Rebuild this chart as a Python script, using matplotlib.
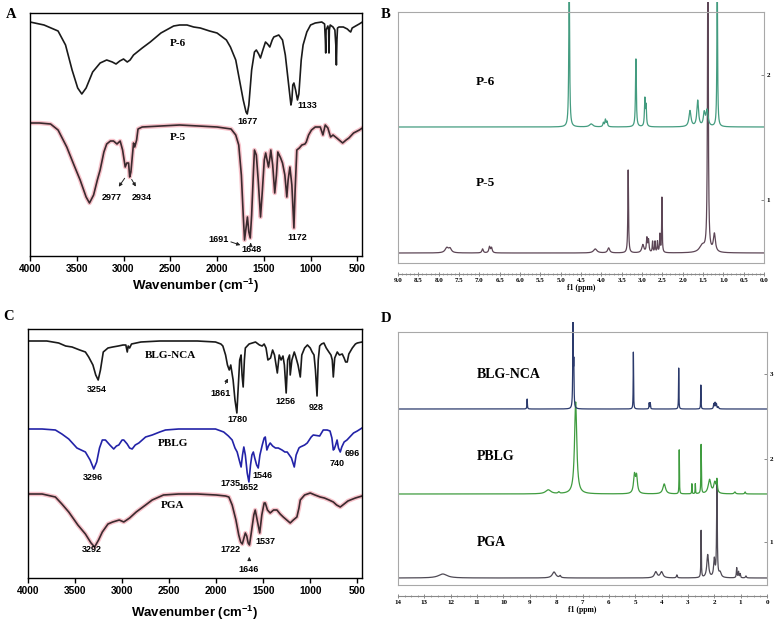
import numpy as np
import matplotlib
matplotlib.use("Agg")
import matplotlib.pyplot as plt
from matplotlib.ticker import MultipleLocator, FormatStrFormatter

plt.rcParams['mathtext.fontset'] = 'custom'
plt.rcParams['mathtext.bf'] = 'Liberation Sans:bold'
plt.rcParams['mathtext.rm'] = 'Liberation Sans'

SANS = 'Liberation Sans'
SERIF = 'Liberation Serif'

# ---------------- IR data (wavenumber, band depth) ----------------
# panel A
p6_wn = [4000, 3850, 3700, 3620, 3550, 3490, 3446, 3400, 3330, 3250, 3180, 3120, 3080, 3040, 3000,
         2960, 2930, 2893, 2800, 2714, 2600, 2464, 2400, 2321, 2250, 2179, 2080, 2000, 1900, 1857,
         1800, 1760, 1720, 1690, 1677, 1660, 1630, 1600, 1580, 1555, 1536, 1510, 1482, 1460, 1436,
         1410, 1393, 1340, 1300, 1270, 1240, 1210, 1200, 1190, 1178, 1160, 1140, 1125, 1100, 1080,
         1040, 1000, 950, 880, 850, 842, 838, 834, 815, 807, 803, 799, 790, 760, 740, 730, 724, 718,
         712, 696, 650, 607, 585, 571, 555, 518, 480, 446]
p6_t = [22, 25, 31, 45, 70, 88, 94, 88, 72, 63, 60, 62, 64, 61, 59,
        62, 60, 55, 48, 42, 33, 26, 25, 25, 27, 28, 31, 33, 40, 47,
        60, 80, 100, 112, 114, 105, 70, 52, 50, 54, 58, 50, 42, 44, 47,
        40, 37, 35, 40, 55, 80, 105, 100, 85, 83, 90, 100, 94, 60, 45,
        32, 25, 23, 22, 24, 40, 53, 30, 26, 30, 53, 30, 25, 27, 30, 45, 65, 40,
        28, 27, 27, 29, 31, 32, 28, 26, 24, 22]

p5_wn = [4000, 3900, 3780, 3700, 3607, 3530, 3464, 3400, 3364, 3320, 3280, 3250, 3210, 3180, 3140,
         3107, 3070, 3036, 3010, 2982, 2965, 2946, 2934, 2921, 2893, 2880, 2860, 2845, 2800, 2600,
         2400, 2200, 2000, 1850, 1800, 1768, 1740, 1720, 1706, 1690, 1675, 1660, 1645, 1630, 1610,
         1600, 1580, 1560, 1535, 1515, 1495, 1480, 1465, 1450, 1435, 1425, 1405, 1383, 1365, 1350,
         1320, 1300, 1275, 1254, 1240, 1221, 1200, 1178, 1165, 1147, 1120, 1093, 1060, 1046, 1021,
         990, 950, 896, 868, 843, 815, 786, 760, 720, 657, 620, 590, 540, 478, 446]
p5_t = [123, 123, 124, 130, 147, 165, 180, 197, 203, 195, 180, 170, 152, 144, 141,
        141, 144, 141, 150, 167, 163, 163, 177, 172, 143, 147, 140, 129, 127, 126,
        125, 126, 127, 129, 135, 145, 175, 215, 240, 228, 217, 232, 238, 215, 170,
        150, 155, 180, 217, 190, 160, 153, 160, 167, 158, 150, 165, 193, 175, 152,
        158, 163, 175, 197, 180, 167, 185, 228, 190, 150, 148, 145, 144, 142, 135,
        130, 127, 127, 135, 125, 128, 137, 135, 138, 143, 140, 138, 133, 130, 128]

# panel C
nca_wn = [4000, 3800, 3674, 3600, 3532, 3450, 3390, 3355, 3310, 3280, 3254, 3230, 3200, 3150, 3100,
          3040, 2990, 2960, 2945, 2935, 2920, 2900, 2800, 2600, 2400, 2200, 2007, 1950, 1929, 1900,
          1880, 1861, 1845, 1820, 1800, 1780, 1770, 1750, 1735, 1725, 1713, 1700, 1690, 1650, 1582,
          1540, 1511, 1490, 1470, 1450, 1422, 1400, 1380, 1350, 1330, 1310, 1290, 1275, 1256, 1240,
          1220, 1213, 1195, 1170, 1156, 1130, 1106, 1090, 1060, 1030, 1000, 980, 960, 945, 928,
          915, 900, 880, 855, 830, 802, 780, 766, 755, 740, 713, 690, 660, 640, 624,
          607, 590, 553, 520, 500, 450]
nca_t = [341, 341, 343, 346, 347, 350, 352, 357, 365, 375, 380, 370, 352, 348, 347,
         346, 345, 345, 352, 346, 348, 344, 342, 341, 341, 341, 342, 344, 346, 355,
         365, 370, 365, 380, 400, 413, 395, 360, 355, 375, 387, 360, 348, 344, 342,
         345, 346, 344, 348, 360, 358, 350, 355, 373, 355, 360, 356, 365, 393, 360,
         355, 375, 360, 352, 356, 365, 377, 355, 348, 345, 348, 352, 355, 370, 396,
         360, 346, 344, 343, 348, 352, 355, 360, 377, 358, 352, 355, 354, 358, 362,
         362, 354, 348, 344, 343, 342]

pblg_wn = [4000, 3850, 3709, 3640, 3567, 3480, 3390, 3340, 3301, 3270, 3240, 3210, 3177, 3130, 3089,
           3060, 3035, 3000, 2982, 2946, 2920, 2893, 2860, 2822, 2750, 2680, 2600, 2539, 2400, 2200,
           2007, 1920, 1870, 1830, 1800, 1777, 1755, 1735, 1720, 1706, 1690, 1670, 1652, 1635, 1620,
           1605, 1590, 1570, 1553, 1535, 1510, 1490, 1478, 1461, 1445, 1426, 1400, 1370, 1340, 1300,
           1270, 1245, 1200, 1170, 1150, 1120, 1106, 1060, 1032, 990, 968, 900, 862, 820, 790,
           770, 755, 745, 730, 715, 700, 681, 665, 640, 610, 580, 540, 500, 450]
pblg_t = [429, 429, 430, 434, 439, 448, 452, 460, 469, 462, 448, 440, 440, 445, 449,
          446, 445, 440, 440, 444, 448, 449, 445, 443, 437, 435, 432, 430, 429, 429,
          429, 432, 436, 440, 448, 452, 460, 467, 455, 447, 455, 473, 482, 465, 455,
          452, 458, 465, 468, 455, 445, 438, 437, 450, 446, 443, 446, 448, 448, 450,
          452, 452, 458, 467, 455, 448, 447, 445, 443, 437, 435, 436, 430, 430, 431,
          438, 450, 449, 445, 440, 448, 452, 447, 442, 440, 437, 433, 431, 428]

pga_wn = [4000, 3850, 3709, 3640, 3567, 3470, 3390, 3330, 3292, 3250, 3210, 3150, 3100, 3030, 2982,
          2920, 2850, 2750, 2680, 2560, 2400, 2200, 2000, 1900, 1865, 1830, 1790, 1760, 1740, 1722,
          1705, 1690, 1675, 1660, 1646, 1630, 1615, 1600, 1585, 1560, 1537, 1515, 1490, 1478, 1455,
          1426, 1390, 1354, 1320, 1287, 1250, 1213, 1180, 1142, 1120, 1106, 1060, 1000, 950, 894,
          850, 800, 755, 720, 681, 640, 600, 574, 520, 450]
pga_t = [494, 494, 497, 504, 512, 525, 534, 543, 547, 540, 532, 524, 522, 520, 522,
         518, 512, 505, 500, 495, 494, 494, 495, 496, 497, 505, 520, 535, 542, 544,
         538, 533, 536, 543, 545, 535, 525, 515, 510, 522, 533, 515, 503, 503, 510,
         513, 510, 510, 514, 517, 520, 523, 520, 517, 508, 500, 495, 493, 495, 497,
         498, 500, 502, 505, 507, 504, 501, 500, 498, 496]

# ---------------- NMR peak lists (ppm, height, half width) ----------------
p6_ppm = [4.79, 4.25, 3.95, 3.90, 3.86, 3.15, 2.93, 2.90, 1.82, 1.63, 1.47, 1.40, 1.15]
p6_h = [150, 3, 4, 7, 5, 68, 27, 20, 16, 26, 13, 16, 150]
p6_w = [0.012, 0.05, 0.015, 0.015, 0.015, 0.012, 0.012, 0.012, 0.03, 0.025, 0.025, 0.03, 0.01]

p5_ppm = [7.80, 7.72, 6.92, 6.75, 6.70, 4.15, 3.82, 3.34, 2.98, 2.88, 2.84, 2.74, 2.68, 2.62,
          2.56, 2.51, 1.52, 1.38, 1.22]
p5_h = [5, 4, 4, 6, 5, 4, 5, 83, 8, 14, 12, 11, 11, 11, 18, 55, 7, 300, 18]
p5_w = [0.05, 0.04, 0.02, 0.02, 0.02, 0.05, 0.03, 0.01, 0.03, 0.015, 0.015, 0.01, 0.01, 0.01,
        0.01, 0.008, 0.08, 0.012, 0.03]

nca_ppm = [9.10, 7.36, 7.33, 5.07, 4.47, 4.43, 3.35, 2.51, 2.02, 1.97, 1.92, 1.85]
nca_h = [10, 86, 40, 57, 6, 6, 41, 24, 5, 6, 5, 2]
nca_w = [0.01, 0.012, 0.01, 0.008, 0.01, 0.01, 0.008, 0.008, 0.015, 0.015, 0.015, 0.02]

pblg_ppm = [8.30, 7.90, 7.26, 5.03, 4.95, 3.90, 3.33, 2.85, 2.72, 2.50, 2.18, 1.98, 1.90, 1.22, 0.83]
pblg_h = [4, 1.5, 92, 18, 17, 10, 44, 10, 10, 49, 14, 11, 12, 2, 2]
pblg_w = [0.12, 0.03, 0.05, 0.04, 0.04, 0.06, 0.008, 0.008, 0.008, 0.01, 0.06, 0.05, 0.02,
          0.03, 0.02]

pga_ppm = [12.30, 8.08, 7.85, 4.22, 4.00, 3.42, 2.50, 2.25, 2.00, 1.90, 1.78, 1.15, 1.08, 1.02, 0.80]
pga_h = [4, 6, 2, 6, 6, 3, 47, 23, 18, 96, 5, 10, 6, 4, 2]
pga_w = [0.2, 0.08, 0.03, 0.06, 0.06, 0.02, 0.01, 0.04, 0.03, 0.015, 0.05, 0.015, 0.015, 0.015, 0.02]

W, H = 782, 625
fig = plt.figure(figsize=(W / 100, H / 100), dpi=100)


def px_axes(l, t, r, b):
    return fig.add_axes([l / W, 1 - b / H, (r - l) / W, (b - t) / H])


def lorentz(x, ppm, h, w, offset):
    y = np.full_like(x, offset, dtype=float)
    for p, hh, ww in zip(ppm, h, w):
        y += hh * ww ** 2 / ((x - p) ** 2 + ww ** 2)
    return y


def ir_style(ax, bottom, top):
    ax.set_xlim(4000, 450)
    ax.set_ylim(bottom, top)
    ax.set_xticks(range(4000, 499, -500))
    ax.set_yticks([])
    ax.tick_params(axis='x', direction='out', length=3.5, width=1, labelsize=7.3, pad=2)
    for lb in ax.get_xticklabels():
        lb.set_fontfamily(SANS)
        lb.set_fontweight('bold')
    for s in ax.spines.values():
        s.set_linewidth(1)
    ax.set_xlabel(r'Wavenumber (cm$^{\mathbf{-1}}$)', fontsize=9.5, fontweight='bold',
                  family=SANS, labelpad=2)


def note(ax, txt, x, y, size=6.5):
    ax.text(x, y, txt, fontsize=size, fontweight='bold', family=SANS, ha='center', va='center')


def arrow(ax, x0, y0, x1, y1):
    ax.annotate('', xy=(x1, y1), xytext=(x0, y0),
                arrowprops=dict(arrowstyle='-|>', lw=0.7, color='#222222', mutation_scale=5))


def name(ax, txt, x, y, size=8, ha='center'):
    ax.text(x, y, txt, fontsize=size, fontweight='bold', family=SERIF, ha=ha, va='center')


# ---------------- panel A ----------------
axA = px_axes(30, 13, 362, 256)
axA.plot(p5_wn, p5_t, color='#f29aa8', lw=3.2, alpha=0.6, solid_joinstyle='round')
axA.plot(p5_wn, p5_t, color='#3a2a2e', lw=1.2, solid_joinstyle='round')
axA.plot(p6_wn, p6_t, color='#1a1a1a', lw=1.2, solid_joinstyle='round')
ir_style(axA, 256, 13)
name(axA, 'P-6', 2424, 43)
name(axA, 'P-5', 2424, 137)
note(axA, '1677', 1674, 121)
note(axA, '1133', 1040, 106)
note(axA, '2977', 3121, 197)
note(axA, '2934', 2800, 197)
arrow(axA, 2971, 176, 3068, 189)
arrow(axA, 2928, 177, 2853, 189)
note(axA, '1691', 1985, 240)
arrow(axA, 1880, 241, 1722, 246)
note(axA, '1648', 1631, 250)
arrow(axA, 1640, 247, 1640, 240)
note(axA, '1172', 1138, 237)

# ---------------- panel C ----------------
axC = px_axes(28, 329, 362, 578)
axC.plot(pga_wn, pga_t, color='#f29aa8', lw=3.2, alpha=0.6, solid_joinstyle='round')
axC.plot(pga_wn, pga_t, color='#3a2a2e', lw=1.2, solid_joinstyle='round')
axC.plot(pblg_wn, pblg_t, color='#2323a8', lw=1.2, solid_joinstyle='round')
axC.plot(nca_wn, nca_t, color='#1a1a1a', lw=1.2, solid_joinstyle='round')
ir_style(axC, 578, 329)
axC.xaxis.labelpad = 6
name(axC, 'BLG-NCA', 2489, 355)
name(axC, 'PBLG', 2457, 444)
name(axC, 'PGA', 2468, 505)
note(axC, '3254', 3266, 390)
note(axC, '1861', 1957, 394)
arrow(axC, 1915, 386, 1862, 376)
note(axC, '1780', 1777, 420)
note(axC, '1256', 1266, 402)
note(axC, '928', 936, 407)
note(axC, '3296', 3309, 477)
note(axC, '1735', 1851, 484)
note(axC, '1652', 1660, 487)
note(axC, '1546', 1511, 476)
note(axC, '740', 713, 464)
note(axC, '696', 553, 454)
note(axC, '3292', 3319, 549)
note(axC, '1722', 1851, 550)
note(axC, '1537', 1479, 542)
note(axC, '1646', 1660, 569)
arrow(axC, 1648, 562, 1648, 554)


# ---------------- NMR panels ----------------
def nmr_style(ax, xmax, ybot, ytop, ybox, ticks, ticklabels, major, minor, fmt):
    ax.set_xlim(xmax, 0)
    ax.set_ylim(ybot, ytop)
    grey = '#a8a8a8'
    ax.spines['top'].set_visible(False)
    for k in ['left', 'right']:
        ax.spines[k].set_bounds(ybot, ybox)
        ax.spines[k].set_color(grey)
        ax.spines[k].set_linewidth(0.8)
    ax.spines['bottom'].set_position(('outward', 8))
    ax.spines['bottom'].set_color('#888888')
    ax.spines['bottom'].set_linewidth(0.8)
    ax.axhline(ybot, color=grey, lw=0.8, clip_on=False)
    ax.axhline(ybox, color=grey, lw=0.8, clip_on=False)
    ax.xaxis.set_major_locator(MultipleLocator(major))
    ax.xaxis.set_minor_locator(MultipleLocator(minor))
    ax.xaxis.set_major_formatter(FormatStrFormatter(fmt))
    ax.tick_params(axis='x', which='major', direction='inout', length=3, width=0.6,
                   color='#777777', labelsize=5, pad=1.5)
    ax.tick_params(axis='x', which='minor', direction='inout', length=1.5, width=0.5,
                   color='#777777')
    for lb in ax.get_xticklabels():
        lb.set_fontfamily(SERIF)
        lb.set_fontweight('bold')
    ax.yaxis.tick_right()
    ax.set_yticks(ticks)
    ax.set_yticklabels(ticklabels)
    ax.tick_params(axis='y', direction='in', length=2, width=0.6, color='#777777',
                   labelsize=5, pad=2)
    for lb in ax.get_yticklabels():
        lb.set_fontfamily(SERIF)
        lb.set_fontweight('bold')
    ax.set_xlabel('f1 (ppm)', fontsize=5.5, fontweight='bold', family=SERIF, labelpad=0.5)


# panel B
axB = px_axes(398, 2, 764, 263)
xb = np.linspace(9.0, 0.0, 9000)
axB.plot(xb, lorentz(xb, p5_ppm, p5_h, p5_w, 0), color='#5d4656', lw=0.9)
axB.plot(xb, lorentz(xb, p6_ppm, p6_h, p6_w, 126), color='#449c80', lw=0.9)
nmr_style(axB, 9.0, -10, 251, 241, [53, 178], ['1', '2'], 0.5, 0.1, '%.1f')
name(axB, 'P-6', 7.1, 171, size=9.5, ha='left')
name(axB, 'P-5', 7.1, 70, size=9.5, ha='left')

# panel D
axD = px_axes(398, 322, 767, 585)
xd = np.linspace(14.0, 0.0, 14000)
axD.plot(xd, lorentz(xd, pga_ppm, pga_h, pga_w, 0), color='#4f4a55', lw=0.9)
axD.plot(xd, lorentz(xd, pblg_ppm, pblg_h, pblg_w, 84), color='#3f9c3f', lw=0.9)
axD.plot(xd, lorentz(xd, nca_ppm, nca_h, nca_w, 169), color='#2b3a6c', lw=0.9)
nmr_style(axD, 14.0, -7, 256, 246, [36, 119, 204], ['1', '2', '3'], 1, 0.25, '%d')
name(axD, 'BLG-NCA', 11.0, 204, size=10, ha='left')
name(axD, 'PBLG', 11.0, 121, size=10, ha='left')
name(axD, 'PGA', 11.0, 36, size=10, ha='left')

# panel letters
for lbl, x, y in [('A', 11, 15), ('B', 386, 15), ('C', 9, 317), ('D', 386, 318)]:
    fig.text(x / W, 1 - y / H, lbl, fontsize=10.5, fontweight='bold', family=SERIF,
             ha='center', va='center')

fig.savefig('out.png', dpi=100)
